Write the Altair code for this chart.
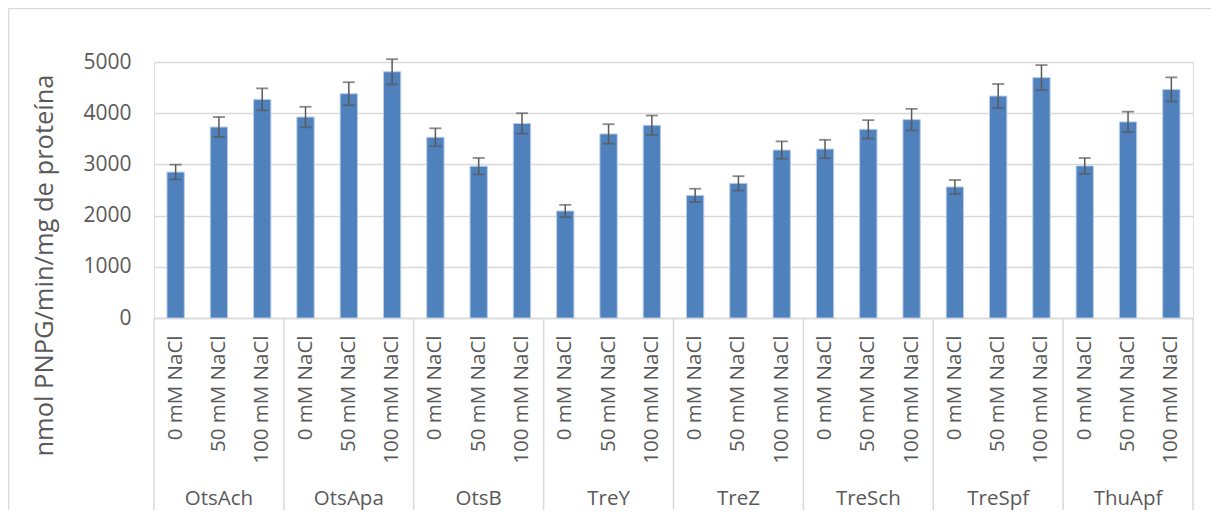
import altair as alt
import pandas as pd

groups = ["OtsAch", "OtsApa", "OtsB", "TreY", "TreZ", "TreSch", "TreSpf", "ThuApf"]
conditions = ["0 mM NaCl", "50 mM NaCl", "100 mM NaCl"]
values = [2850, 3730, 4270, 3925, 4380, 4810, 3530, 2965, 3800, 2090, 3595, 3765,
          2395, 2630, 3280, 3300, 3685, 3875, 2560, 4335, 4695, 2970, 3830, 4465]
errors = [145, 195, 215, 200, 225, 245, 175, 160, 200, 120, 190, 190,
          130, 140, 170, 180, 180, 210, 135, 235, 245, 155, 200, 235]

keys = [f"{g}|{c}" for g in groups for c in conditions]
df = pd.DataFrame({
    "key": keys,
    "group": [g for g in groups for _ in conditions],
    "cond": [c for _ in groups for c in conditions],
    "value": values,
    "err": errors,
})
df["lo"] = df["value"] - df["err"]
df["hi"] = df["value"] + df["err"]

W, H = 1039, 256
RIGHT = 18
BOTTOM = 192
FONT = "Open Sans"
GRAY = "#595959"
LINE = "#d9d9d9"

xscale = alt.Scale(domain=keys, paddingInner=0, paddingOuter=0)
x = alt.X("key:N", scale=xscale, sort=keys, title=None,
          axis=alt.Axis(labelExpr="split(datum.value, '|')[1]", labelAngle=-90,
                        labelAlign="right", labelBaseline="middle", labelPadding=17,
                        labelFontSize=20.5, labelColor=GRAY, labelFont=FONT,
                        ticks=False, domainColor=LINE, domainWidth=1.5,
                        labelOverlap=False))

base = alt.Chart(df)

bars = base.mark_bar(width=alt.RelativeBandSize(0.4), color="#4f81bd",
                     stroke="#b9cde6", strokeWidth=1).encode(
    x=x,
    y=alt.Y("value:Q", scale=alt.Scale(domain=[0, 5000], nice=False),
            title="nmol PNPG/min/mg de proteína",
            axis=alt.Axis(values=[0, 1000, 2000, 3000, 4000, 5000], format="d",
                          grid=True, gridColor=LINE, gridWidth=1.5, domain=False,
                          ticks=False, labelPadding=23, labelFontSize=21,
                          labelColor=GRAY, labelFont=FONT, titleFont=FONT,
                          titleFontSize=25.5, titleFontWeight="normal",
                          titleColor=GRAY, titleAngle=-90, titleX=-110, titleY=203,
                          titleAlign="center", titleBaseline="middle")),
)

err_rule = base.mark_rule(color=GRAY, strokeWidth=1.5).encode(
    x=alt.X("key:N", scale=xscale, sort=keys),
    y="lo:Q", y2="hi:Q",
)
cap_lo = base.mark_tick(color=GRAY, size=12, thickness=1.8).encode(
    x=alt.X("key:N", scale=xscale, sort=keys), y="lo:Q")
cap_hi = base.mark_tick(color=GRAY, size=12, thickness=1.8).encode(
    x=alt.X("key:N", scale=xscale, sort=keys), y="hi:Q")

first = df[df["cond"] == conditions[0]]
last = df[df["cond"] == conditions[-1]]

sep_left = alt.Chart(first).mark_rule(color=LINE, strokeWidth=1.5).encode(
    x=alt.X("key:N", scale=xscale, sort=keys, bandPosition=0),
    y=alt.value(H), y2=alt.value(H + BOTTOM),
)
sep_right = alt.Chart(last.tail(1)).mark_rule(color=LINE, strokeWidth=1.5).encode(
    x=alt.X("key:N", scale=xscale, sort=keys, bandPosition=1),
    y=alt.value(H), y2=alt.value(H + BOTTOM),
)

mid = df[df["cond"] == conditions[1]]
group_labels = alt.Chart(mid).mark_text(font=FONT, fontSize=20.5, color=GRAY,
                                        baseline="middle", align="center").encode(
    x=alt.X("key:N", scale=xscale, sort=keys),
    y=alt.value(H + 181),
    text="group:N",
)

border_top = alt.Chart(df.head(1)).mark_rule(color=LINE, strokeWidth=1.5).encode(
    x=alt.value(-145.5), x2=alt.value(W + RIGHT), y=alt.value(-53.5),
)
border_left = alt.Chart(df.head(1)).mark_rule(color=LINE, strokeWidth=1.5).encode(
    x=alt.value(-145.5), y=alt.value(-53.5), y2=alt.value(H + BOTTOM),
)

chart = alt.layer(border_top, border_left, bars, err_rule, cap_lo, cap_hi,
                  sep_left, sep_right, group_labels).properties(
    width=W, height=H,
    autosize=alt.AutoSizeParams(type="none"),
    padding={"left": 146, "top": 54, "right": RIGHT, "bottom": BOTTOM},
).configure_view(stroke=None).configure(background="white")

chart.save("out.html", embed_options={"renderer": "svg", "actions": False})
